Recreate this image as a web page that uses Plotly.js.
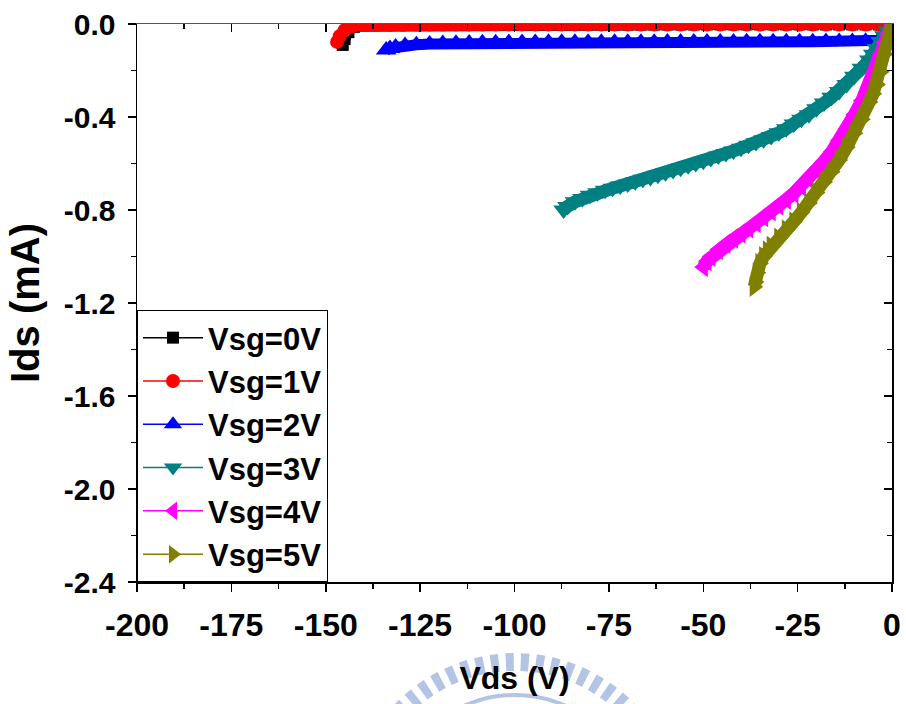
<!DOCTYPE html>
<html>
<head>
<meta charset="utf-8">
<script src="https://cdn.plot.ly/plotly-3.0.1.min.js"></script>
<style>html,body{margin:0;padding:0;background:#fff;}#chart{width:906px;height:704px;}</style>
</head>
<body>
<div id="chart"></div>
<script>
// ---- data ----
const seriesNames = ["Vsg=0V", "Vsg=1V", "Vsg=2V", "Vsg=3V", "Vsg=4V", "Vsg=5V"];

const vds0 = [0,-3.5,-7,-10.5,-14,-17.5,-21,-24.5,-28,-31.5,-35,-38.5,-42,-45.5,-49,-52.5,-56,-59.5,-63,-66.5,-70,-73.5,-77,-80.5,-84,-87.5,-91,-94.5,-98,-101.5,-105,-108.5,-112,-115.5,-119,-122.5,-126,-129.5,-133,-136.5,-140,-142.5,-144,-145,-145.5];
const ids0 = [0,-0.002,-0.002,-0.002,-0.002,-0.002,-0.002,-0.002,-0.002,-0.002,-0.002,-0.002,-0.002,-0.002,-0.002,-0.002,-0.002,-0.002,-0.002,-0.002,-0.002,-0.002,-0.002,-0.002,-0.002,-0.002,-0.002,-0.002,-0.002,-0.002,-0.002,-0.002,-0.002,-0.002,-0.002,-0.002,-0.002,-0.003,-0.003,-0.003,-0.004,-0.012,-0.035,-0.065,-0.09];

const vds1 = [0,-3.5,-7,-10.5,-14,-17.5,-21,-24.5,-28,-31.5,-35,-38.5,-42,-45.5,-49,-52.5,-56,-59.5,-63,-66.5,-70,-73.5,-77,-80.5,-84,-87.5,-91,-94.5,-98,-101.5,-105,-108.5,-112,-115.5,-119,-122.5,-126,-129.5,-133,-136.5,-140,-143,-145,-146.3,-147];
const ids1 = [0,-0.002,-0.002,-0.002,-0.002,-0.002,-0.002,-0.002,-0.002,-0.002,-0.002,-0.002,-0.002,-0.002,-0.002,-0.002,-0.002,-0.002,-0.002,-0.002,-0.002,-0.002,-0.002,-0.002,-0.002,-0.002,-0.002,-0.002,-0.002,-0.002,-0.002,-0.002,-0.002,-0.002,-0.002,-0.002,-0.002,-0.003,-0.003,-0.003,-0.004,-0.01,-0.027,-0.052,-0.077];

const vds2 = [0,-1,-2,-3.5,-7,-10.5,-14,-17.5,-21,-24.5,-28,-31.5,-35,-38.5,-42,-45.5,-49,-52.5,-56,-59.5,-63,-66.5,-70,-73.5,-77,-80.5,-84,-87.5,-91,-94.5,-98,-101.5,-105,-108.5,-112,-115.5,-119,-122.5,-126,-129,-131.5,-133,-134];
const ids2 = [0,-0.03,-0.058,-0.07,-0.074,-0.075,-0.075,-0.075,-0.076,-0.076,-0.076,-0.076,-0.076,-0.076,-0.077,-0.077,-0.077,-0.077,-0.077,-0.077,-0.078,-0.078,-0.078,-0.078,-0.078,-0.079,-0.079,-0.079,-0.079,-0.08,-0.08,-0.08,-0.081,-0.081,-0.082,-0.083,-0.084,-0.086,-0.089,-0.093,-0.099,-0.105,-0.112];

const vds3 = [0,-1,-2,-3,-4,-5,-6,-8,-10,-12,-14,-16,-18,-20,-22,-24,-26,-28,-30,-32,-34,-36,-38,-40,-42,-44,-46,-48,-50,-52,-54,-56,-58,-60,-62,-64,-66,-68,-70,-72,-74,-76,-78,-80,-82,-84,-86,-87];
const ids3 = [0,-0.03,-0.05,-0.075,-0.105,-0.13,-0.155,-0.19,-0.225,-0.26,-0.29,-0.315,-0.34,-0.365,-0.39,-0.41,-0.43,-0.45,-0.468,-0.484,-0.498,-0.51,-0.522,-0.534,-0.546,-0.557,-0.568,-0.579,-0.59,-0.6,-0.61,-0.62,-0.63,-0.64,-0.65,-0.66,-0.668,-0.678,-0.688,-0.697,-0.706,-0.715,-0.726,-0.737,-0.75,-0.765,-0.785,-0.8];

const vds4 = [0,-1,-2,-3,-4,-5,-6,-8,-10,-12,-14,-16,-18,-20,-22,-24,-26,-28,-30,-32,-34,-36,-38,-40,-42,-44,-46,-48,-49,-50];
const ids4 = [0,-0.04,-0.08,-0.13,-0.19,-0.23,-0.27,-0.33,-0.39,-0.45,-0.5,-0.55,-0.59,-0.63,-0.665,-0.698,-0.728,-0.755,-0.78,-0.805,-0.83,-0.855,-0.878,-0.9,-0.922,-0.945,-0.97,-1.0,-1.02,-1.045];

const vds5 = [0,-1,-2,-3,-4,-5,-6,-8,-10,-12,-14,-16,-18,-20,-22,-24,-26,-28,-30,-32,-33,-34,-35,-35.7,-36.2,-36.5];
const ids5 = [0,-0.07,-0.13,-0.205,-0.26,-0.3,-0.335,-0.41,-0.47,-0.53,-0.585,-0.635,-0.68,-0.725,-0.77,-0.81,-0.85,-0.885,-0.92,-0.955,-0.975,-1.0,-1.03,-1.07,-1.11,-1.13];

const xTickVals = [-200,-175,-150,-125,-100,-75,-50,-25,0];
const xTickText = ["-200","-175","-150","-125","-100","-75","-50","-25","0"];
const yTickVals = [0,-0.4,-0.8,-1.2,-1.6,-2.0,-2.4];
const yTickText = ["0.0","-0.4","-0.8","-1.2","-1.6","-2.0","-2.4"];

// ---- styling ----
const colors = ["#000000","#ff0000","#0000ff","#008080","#ff00ff","#808000"];
const symbols = ["square","circle","triangle-up","triangle-down","triangle-left","triangle-right"];
const sizes = [12,14,18,18,18,18];
const bandWidths = [10,10,11,13,13,13];
const xs = [vds0,vds1,vds2,vds3,vds4,vds5];
const ys = [ids0,ids1,ids2,ids3,ids4,ids5];

const FONT = "Arial, 'Liberation Sans', sans-serif";

const traces = [];
xs.forEach((x, i) => {
  // thick band under the dense markers (no legend entry)
  traces.push({
    type: "scatter", mode: "lines", x: x, y: ys[i], showlegend: false, hoverinfo: "skip",
    line: {color: colors[i], width: bandWidths[i]}
  });
  traces.push({
    type: "scatter", mode: "lines+markers", name: seriesNames[i], x: x, y: ys[i],
    line: {color: colors[i], width: 1.5},
    marker: {color: colors[i], symbol: symbols[i], size: sizes[i], line: {width: 0}}
  });
});

traces.push({type: "scatter", x: [], y: [], xaxis: "x2", yaxis: "y2", showlegend: false, hoverinfo: "skip"});

const layout = {
  width: 906,
  height: 704,
  margin: {l: 137, r: 14, t: 24, b: 122},
  paper_bgcolor: "#ffffff",
  plot_bgcolor: "#ffffff",
  showlegend: true,
  font: {family: FONT, color: "#000", weight: "bold"},
  xaxis: {
    range: [-200, 0],
    tickmode: "array", tickvals: xTickVals, ticktext: xTickText,
    ticks: "outside", ticklen: 8, tickwidth: 1.5, tickcolor: "#000",
    minor: {ticks: "outside", ticklen: 5, tickwidth: 1.5, tickcolor: "#000", dtick: 12.5, tick0: 0},
    showline: true, linecolor: "#000", linewidth: 1.5,
    showgrid: false, zeroline: false,
    tickfont: {family: FONT, size: 32, weight: "bold", color: "#000"},
    ticklabelstandoff: 6,
    title: {text: "Vds (V)", font: {family: FONT, size: 32, weight: "bold", color: "#000"}, standoff: 24}
  },
  yaxis: {
    range: [-2.4, 0],
    tickmode: "array", tickvals: yTickVals, ticktext: yTickText,
    ticks: "outside", ticklen: 8, tickwidth: 1.5, tickcolor: "#000",
    minor: {ticks: "outside", ticklen: 5, tickwidth: 1.5, tickcolor: "#000", dtick: 0.2, tick0: 0},
    showline: true, linecolor: "#000", linewidth: 1.5,
    showgrid: false, zeroline: false,
    tickfont: {family: FONT, size: 30, weight: "bold", color: "#000"},
    ticklabelstandoff: 6,
    title: {text: "Ids (mA)", font: {family: FONT, size: 40, weight: "bold", color: "#000"}, standoff: 12}
  },
  xaxis2: {
    overlaying: "x", side: "top", range: [-200, 0],
    tickmode: "linear", tick0: 0, dtick: 25,
    ticks: "inside", ticklen: 8, tickwidth: 1.5, tickcolor: "#000",
    minor: {ticks: "inside", ticklen: 5, tickwidth: 1.5, tickcolor: "#000", dtick: 12.5, tick0: 0},
    showticklabels: false, showline: true, linecolor: "#555", linewidth: 1.5,
    showgrid: false, zeroline: false
  },
  yaxis2: {
    overlaying: "y", side: "right", range: [-2.4, 0],
    tickmode: "linear", tick0: 0, dtick: 0.4,
    ticks: "inside", ticklen: 8, tickwidth: 1.5, tickcolor: "#000",
    minor: {ticks: "inside", ticklen: 5, tickwidth: 1.5, tickcolor: "#000", dtick: 0.2, tick0: 0},
    showticklabels: false, showline: true, linecolor: "#000", linewidth: 1.5,
    showgrid: false, zeroline: false
  },
  legend: {
    x: 0, y: 0, xanchor: "left", yanchor: "bottom",
    xref: "paper", yref: "paper",
    bgcolor: "#ffffff", bordercolor: "#000", borderwidth: 1,
    font: {family: FONT, size: 31, weight: "bold", color: "#000"},
    itemsizing: "trace", itemwidth: 60, tracegroupgap: 0
  },
  shapes: [
    {type: "circle", xref: "paper", yref: "paper", layer: "below",
     x0: 0.2914, x1: 0.7099, y0: -0.7097, y1: -0.1434,
     line: {color: "#b4c4e4", width: 18, dash: "8px,7px"}},
    {type: "circle", xref: "paper", yref: "paper", layer: "below",
     x0: (390-137)/755, x1: (640-137)/755, y0: (582-945)/558, y1: (582-695)/558,
     line: {color: "#b4c4e4", width: 4}}
  ]
};

Plotly.newPlot("chart", traces, layout, {displayModeBar: false, staticPlot: true});
</script>
</body>
</html>
